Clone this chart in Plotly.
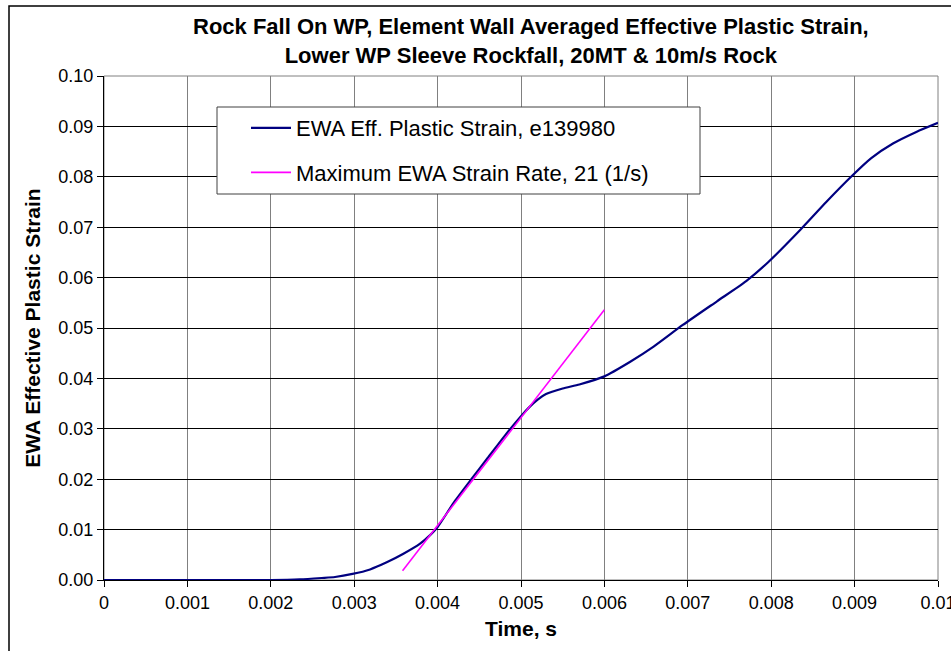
import plotly.graph_objects as go

# Data
time_s = [0, 0.0005, 0.001, 0.0015, 0.002, 0.00235, 0.00261, 0.00277, 0.00298,
          0.00319, 0.00339, 0.00359, 0.00379, 0.00391, 0.0040, 0.0042, 0.0044,
          0.0046, 0.0048, 0.0050, 0.0051, 0.0052, 0.0053, 0.0055, 0.0057, 0.0060,
          0.00631, 0.00659, 0.00694, 0.00735, 0.0077, 0.00796, 0.00835, 0.00866,
          0.00897, 0.0092, 0.00946, 0.00974, 0.0100]
ewa_strain = [0, 0, 0, 0, 0, 0.00013, 0.0004, 0.0006, 0.0012,
              0.0021, 0.0035, 0.0052, 0.0072, 0.0089, 0.0105, 0.0155, 0.0199,
              0.0242, 0.0285, 0.0325, 0.0343, 0.0358, 0.0369, 0.0380, 0.0388, 0.0404,
              0.0433, 0.0463, 0.0506, 0.0553, 0.0593, 0.0630, 0.0695, 0.0750,
              0.0802, 0.0837, 0.0866, 0.0889, 0.0907]

rate_time = [0.00358, 0.0060]
rate_strain = [0.00185, 0.0536]

x_tickvals = [0, 0.001, 0.002, 0.003, 0.004, 0.005, 0.006, 0.007, 0.008, 0.009, 0.01]
x_ticktext = ["0", "0.001", "0.002", "0.003", "0.004", "0.005", "0.006", "0.007",
              "0.008", "0.009", "0.01"]
y_tickvals = [0, 0.01, 0.02, 0.03, 0.04, 0.05, 0.06, 0.07, 0.08, 0.09, 0.10]

FONT = "Liberation Sans, Arial, sans-serif"
TITLE = "Rock Fall On WP, Element Wall Averaged Effective Plastic Strain,<br>Lower WP Sleeve Rockfall, 20MT & 10m/s Rock"

fig = go.Figure()
fig.add_trace(go.Scatter(
    x=time_s, y=ewa_strain, mode="lines",
    name="EWA Eff. Plastic Strain, e139980",
    line=dict(color="#000080", width=2.2, shape="spline", smoothing=0.6),
    legendgroup="a",
))
fig.add_trace(go.Scatter(
    x=rate_time, y=rate_strain, mode="lines",
    name="Maximum EWA Strain Rate, 21 (1/s)",
    line=dict(color="#FF00FF", width=1.6),
    legendgroup="b",
))

W, H = 951, 651
L, R, T, B = 104, 13, 76, 71
pw, ph = W - L - R, H - T - B

def px_x(p):
    return (p - L) / pw

def px_y(p):
    return (H - B - p) / ph

fig.update_layout(
    width=W, height=H,
    margin=dict(l=L, r=R, t=T, b=B, autoexpand=False),
    paper_bgcolor="white", plot_bgcolor="white",
    font=dict(family=FONT, color="black", size=18),
    xaxis=dict(
        range=[0, 0.01], tickvals=x_tickvals, ticktext=x_ticktext,
        showgrid=True, gridcolor="#808080", gridwidth=1,
        showline=True, linecolor="black", linewidth=1, mirror=False,
        ticks="outside", ticklen=6, tickcolor="black",
        tickfont=dict(size=18), zeroline=False, ticklabeloverflow="allow",
        automargin=False,
        title=dict(text="Time, s", font=dict(size=21, weight="bold"), standoff=9),
    ),
    yaxis=dict(
        range=[0, 0.10], tickvals=y_tickvals, tickformat=".2f",
        showgrid=True, gridcolor="black", gridwidth=1,
        showline=True, linecolor="black", linewidth=1,
        ticks="outside", ticklen=6, tickcolor="black",
        tickfont=dict(size=18), zeroline=False, automargin=False,
        title=dict(text="EWA Effective Plastic Strain", font=dict(size=21, weight="bold"), standoff=12),
    ),
    legend=dict(
        x=px_x(246), y=px_y(107), xanchor="left", yanchor="top",
        bgcolor="rgba(0,0,0,0)", borderwidth=0,
        font=dict(size=22, family=FONT),
        tracegroupgap=13, itemwidth=40,
    ),
    showlegend=True,
    annotations=[
        dict(text=TITLE, xref="paper", yref="paper", x=px_x(531), y=px_y(12),
             xanchor="center", yanchor="top", showarrow=False, align="center",
             font=dict(family=FONT, size=22, color="black", weight="bold")),
    ],
    shapes=[
        # plot-area frame (grey)
        dict(type="rect", xref="paper", yref="paper", x0=0, x1=1, y0=0, y1=1,
             line=dict(color="#808080", width=1), layer="below"),
        # legend box
        dict(type="rect", xref="paper", yref="paper",
             x0=px_x(217), x1=px_x(700), y0=px_y(194), y1=px_y(107),
             line=dict(color="#404040", width=1), fillcolor="white", layer="above"),
        # outer chart frame
        dict(type="rect", xref="paper", yref="paper",
             x0=px_x(9), x1=px_x(960), y0=px_y(665), y1=px_y(6),
             line=dict(color="black", width=1.5)),
    ],
)

fig.write_html("out.html")
